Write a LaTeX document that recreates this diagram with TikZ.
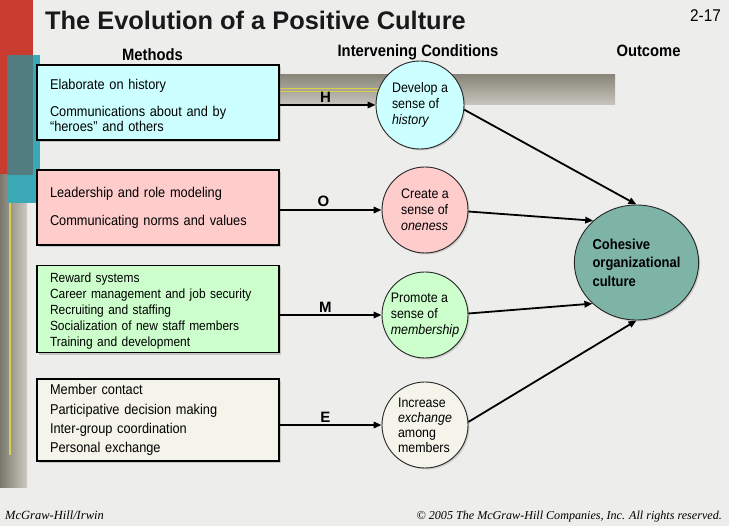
\documentclass[tikz,border=0pt]{standalone}
\usepackage{fontspec}
\setmainfont{Liberation Sans}
\newfontfamily\narrowsans[FakeStretch=0.9]{Liberation Sans}
\newfontfamily\footfont{Liberation Serif}
\usetikzlibrary{arrows.meta,positioning,shapes.geometric,shadows}

\definecolor{fondo}{HTML}{EDEDEB}
\definecolor{azulcl}{HTML}{CCFFFF}
\definecolor{rosacl}{HTML}{FFCCCC}
\definecolor{verdecl}{HTML}{CCFFCC}
\definecolor{cremacl}{HTML}{F4F4EA}
\definecolor{tealc}{HTML}{7DB4A5}
\definecolor{rojo}{HTML}{C93A2F}
\definecolor{tealb}{HTML}{3AA8B5}
\definecolor{tealo}{HTML}{517D80}
\definecolor{textura}{HTML}{A29E90}
\definecolor{amarillo}{HTML}{D8D04A}

\begin{document}
\begin{tikzpicture}[x=1pt, y=-1pt,
  methbox/.style={draw, line width=1.1pt, minimum width=242pt, text width=216pt, align=left, inner xsep=13pt, font=\narrowsans\fontsize{14.2}{15}\selectfont, drop shadow={shadow xshift=2pt, shadow yshift=-2pt, opacity=0.35}},
  cond/.style={circle, draw=black!85, line width=0.9pt, minimum size=86pt, inner sep=0pt, align=left, font=\narrowsans\fontsize{13.8}{16}\selectfont, drop shadow={shadow xshift=1.5pt, shadow yshift=-1.5pt, opacity=0.3}},
  head/.style={anchor=base, font=\narrowsans\bfseries\fontsize{16.4}{18}\selectfont},
  letra/.style={above, inner sep=2pt, font=\bfseries\fontsize{15}{16}\selectfont},
  flecha/.style={->, line width=1.8pt}, >={Triangle[length=8pt,width=6.5pt]}]
\fill[fondo] (0,0) rectangle (729,526);
\useasboundingbox (0,0) rectangle (729,526);
\fill[rojo] (0,0) rectangle (33,175);
\shade[left color=textura!75!black, right color=textura!55!white] (0,175) rectangle (27,488);
\draw[amarillo, line width=1.2pt] (10,178) -- (10,455);
\fill[tealb] (7,55) rectangle (40,203);
\fill[tealo] (7,55) rectangle (33,175);
\shade[top color=textura!85!black, bottom color=textura!60!white] (280,75) rectangle (615,105);
\draw[amarillo, line width=0.9pt] (280,88) -- (380,88) (280,91.5) -- (380,91.5);

\node[anchor=base west, inner sep=0pt, text=black!90, font=\bfseries\fontsize{25.4}{28}\selectfont] (tit) at (45,30) {The Evolution of a Positive Culture};
\node[anchor=base east, inner sep=0pt, font=\narrowsans\fontsize{17}{18}\selectfont] (num) at (721,22) {2-17};
\node[head] (hmet) at (152.5,61) {Methods};
\node[head] (hint) at (418,57) {Intervening Conditions};
\node[head] (hout) at (648.5,57) {Outcome};

\node[methbox, fill=azulcl, minimum height=75pt] (mh) at (158,102.5) {\rule{0pt}{17pt}Elaborate on history\\[12pt]Communications about and by\\“heroes” and others};
\node[methbox, fill=rosacl, minimum height=75pt] (mo) at (158,207.5) {Leadership and role modeling\\[13pt]Communicating norms and values};
\node[methbox, fill=verdecl, minimum height=82pt, font=\narrowsans\fontsize{13.3}{16}\selectfont] (mm) at (158,309) {\rule{0pt}{14pt}Reward systems\\Career management and job security\\Recruiting and staffing\\Socialization of new staff members\\Training and development};
\node[methbox, fill=cremacl, minimum height=82pt, font=\narrowsans\fontsize{14.2}{19.3}\selectfont] (me) at (158,420) {Member contact\\Participative decision making\\Inter-group coordination\\Personal exchange};

\node[cond, fill=azulcl, minimum size=88pt] (hist) at (420,105) {Develop a\\sense of\\\textit{history}};
\node[cond, fill=rosacl] (one) at (425,210) {Create a\\sense of\\\textit{oneness}};
\node[cond, fill=verdecl] (memb) at (425,315) {Promote a\\sense of\\\textit{membership}};
\node[cond, fill=cremacl, font=\narrowsans\fontsize{13.8}{15}\selectfont] (exch) at (425,425) {Increase\\\textit{exchange}\\among\\members};
\node[ellipse, draw=black!85, line width=0.9pt, fill=tealc, minimum width=121pt, minimum height=115pt, inner sep=0pt, align=left, font=\narrowsans\bfseries\fontsize{14.4}{18.5}\selectfont, drop shadow={shadow xshift=1.5pt, shadow yshift=-1.5pt, opacity=0.3}] (coh) at (636.5,262.5) {Cohesive\\organizational\\culture};

\draw[flecha] (mh.east |- hist.west) -- node[letra, pos=0.48] (lh) {H} (hist.west);
\draw[flecha] (mo.east |- one.west) -- node[letra, pos=0.43] (lo) {O} (one.west);
\draw[flecha] (mm.east |- memb.west) -- node[letra, pos=0.45] (lm) {M} (memb.west);
\draw[flecha] (me.east |- exch.west) -- node[letra, pos=0.45] (le) {E} (exch.west);
\draw[flecha] (hist.-6) -- (coh.north); \draw[flecha] (one.-2) -- (coh.136);
\draw[flecha] (memb.2) -- (coh.223); \draw[flecha] (exch.4) -- (coh.south);

\node[anchor=base west, inner sep=0pt, font=\footfont\itshape\fontsize{12.5}{14}\selectfont] (pie1) at (5,520) {McGraw-Hill/Irwin};
\node[anchor=base east, inner sep=0pt, font=\footfont\itshape\fontsize{12.1}{14}\selectfont] (pie2) at (722,520) {© 2005 The McGraw-Hill Companies, Inc. All rights reserved.};
\end{tikzpicture}
\end{document}
